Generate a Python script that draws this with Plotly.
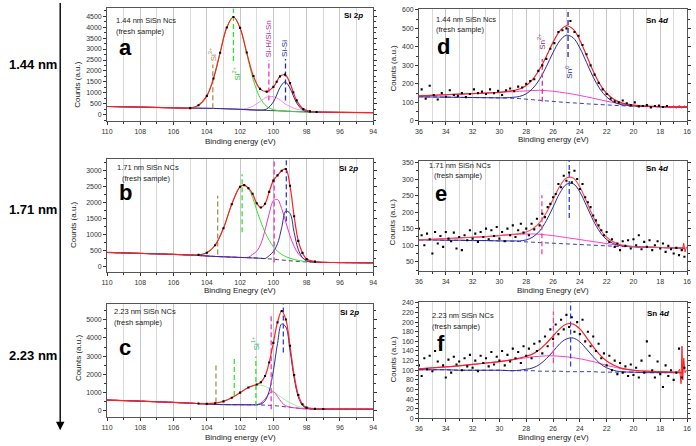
import plotly.graph_objects as go

FONT = "Liberation Sans, Arial, sans-serif"
W, H = 696, 446

# ---------------- Panel a : Si 2p, 1.44 nm ----------------
x_a = [110, 108, 106, 105, 104.5, 104, 103.6, 103.2, 102.8, 102.4, 102.0, 101.6, 101.2, 100.8, 100.4, 100.0, 99.8, 99.6, 99.3, 99.0, 98.8, 98.6, 98.2, 97.8, 97.4, 97, 96, 94]
bg_a = [380, 350, 320, 305, 300, 295, 290, 285, 275, 262, 248, 235, 222, 210, 200, 190, 184, 178, 168, 158, 150, 145, 135, 128, 122, 118, 110, 100]
green_a = [380, 350, 320, 305, 434, 862, 1655, 2834, 3979, 4462, 3952, 2784, 1587, 777, 385, 236, 205, 186, 170, 159, 150, 145, 135, 128, 122, 118, 110, 100]
pink_a = [380, 350, 320, 305, 300, 295, 290, 285, 275, 262, 259, 290, 402, 610, 805, 830, 770, 680, 500, 380, 310, 260, 195, 152, 130, 120, 110, 100]
blue_a = [380, 350, 320, 305, 300, 295, 290, 285, 275, 262, 248, 235, 222, 215, 267, 586, 902, 1242, 1498, 1222, 868, 541, 202, 133, 122, 118, 110, 100]
red_a = [380, 350, 320, 305, 434, 862, 1655, 2834, 3979, 4462, 3963, 2839, 1767, 1182, 1057, 1272, 1509, 1752, 1832, 1445, 1028, 656, 262, 157, 130, 120, 110, 100]
vx_a = [103.64, 102.4, 100.27, 99.27]
vy0_a = [300, 2450, 650, 650]
vy1_a = [2300, 4850, 2500, 2550]

# ---------------- Panel b : Si 2p, 1.71 nm ----------------
x_b = [110, 108, 106, 105, 104.5, 104, 103.5, 103, 102.5, 102, 101.75, 101.5, 101.25, 101, 100.75, 100.5, 100.25, 100, 99.75, 99.5, 99.25, 99, 98.75, 98.5, 98.25, 98, 97.5, 97, 96, 94]
bg_b = [430, 400, 370, 350, 335, 320, 305, 295, 285, 275, 270, 265, 260, 255, 248, 240, 230, 220, 208, 195, 183, 170, 160, 150, 142, 135, 125, 120, 115, 105]
green_b = [430, 400, 370, 350, 355, 420, 655, 1185, 1935, 2480, 2530, 2420, 2150, 1750, 1380, 1060, 810, 610, 470, 370, 300, 250, 210, 180, 160, 145, 130, 122, 115, 105]
pink_b = [430, 400, 370, 350, 335, 320, 305, 295, 285, 275, 272, 280, 370, 470, 700, 1130, 1640, 2040, 2080, 1800, 1380, 950, 620, 390, 270, 185, 135, 120, 115, 105]
blue_b = [430, 400, 370, 350, 335, 320, 305, 295, 285, 275, 270, 265, 260, 255, 248, 240, 330, 460, 700, 1200, 1720, 1650, 1050, 520, 270, 165, 130, 120, 115, 105]
red_b = [430, 400, 370, 350, 355, 420, 655, 1185, 1935, 2480, 2532, 2435, 2260, 1965, 1832, 1950, 2320, 2670, 2834, 2980, 3034, 2510, 1560, 790, 416, 225, 145, 122, 115, 105]
vx_b = [103.35, 101.88, 99.95, 99.22]
vy0_b = [370, 1060, 120, 1400]
vy1_b = [2200, 2870, 3340, 3350]

# ---------------- Panel c : Si 2p, 2.23 nm ----------------
x_c = [110, 108, 106, 105, 104.5, 104, 103.5, 103, 102.5, 102, 101.5, 101, 100.75, 100.5, 100.25, 100, 99.75, 99.5, 99.25, 99, 98.75, 98.5, 98.25, 98, 97.5, 97, 96, 94]
bg_c = [590, 530, 460, 420, 395, 370, 350, 340, 335, 333, 330, 325, 320, 312, 300, 285, 265, 240, 215, 190, 165, 140, 120, 105, 98, 95, 93, 90]
green_c = [590, 530, 460, 420, 400, 391, 417, 518, 717, 1000, 1278, 1420, 1410, 1342, 1224, 1072, 902, 729, 572, 438, 328, 242, 180, 139, 107, 95, 93, 90]
pink_c = [590, 530, 460, 420, 395, 370, 350, 340, 335, 333, 330, 344, 423, 644, 945, 1037, 792, 461, 271, 198, 165, 140, 120, 105, 98, 95, 93, 90]
blue_c = [590, 530, 460, 420, 395, 370, 350, 340, 335, 333, 330, 334, 371, 545, 1080, 2192, 3694, 4769, 4604, 3317, 1799, 766, 296, 142, 99, 95, 93, 90]
red_c = [590, 530, 460, 420, 400, 391, 417, 518, 717, 1000, 1278, 1448, 1564, 1907, 2649, 3731, 4858, 5479, 5017, 3573, 1962, 868, 356, 176, 108, 95, 93, 90]
vx_c = [103.45, 102.35, 101.05, 100.13, 99.4]
vy0_c = [450, 810, 270, 90, 3200]
vy1_c = [2580, 2980, 2980, 5235, 5860]

# ---------------- Panel d : Sn 4d, 1.44 nm ----------------
x_d = [36, 35, 34, 33, 32, 31, 30, 29, 28.5, 28, 27.5, 27, 26.5, 26, 25.5, 25, 24.5, 24, 23.5, 23, 22.5, 22, 21.5, 21, 20, 19, 18, 17, 16]
bg_d = [130, 129, 128, 127, 126, 125, 124, 122, 120, 117, 114, 111, 108, 105, 102, 99, 97, 95, 92, 90, 88, 86, 84, 82, 79, 77, 76, 75, 74]
blue_d = [130, 129, 128, 127, 126, 125, 124, 127, 132, 146, 176, 225, 293, 369, 432, 463, 449, 394, 315, 236, 172, 129, 103, 89, 80, 77, 76, 75, 74]
pink_d = [135, 138, 141, 144, 147, 150, 154, 158, 160, 162, 164, 165, 163, 160, 155, 150, 144, 137, 130, 122, 114, 106, 99, 93, 84, 79, 76, 75, 74]
red_d = [135, 138, 141, 144, 147, 150, 154, 163, 172, 191, 226, 279, 348, 424, 485, 514, 496, 436, 353, 268, 198, 149, 118, 100, 85, 79, 76, 75, 74]
dots_d_x = [35.8, 35.5, 35.2, 34.9, 34.6, 34.3, 34.0, 33.7, 33.4, 33.1, 32.8, 32.5, 32.2, 31.9, 31.6, 31.3, 31.0, 30.7, 30.4, 30.1, 29.8, 29.5, 29.2, 28.9, 28.6, 28.3, 28.0, 27.7, 27.4, 27.1, 26.8, 26.5, 26.2, 25.9, 25.6, 25.3, 25.0, 24.7, 24.4, 24.1, 23.8, 23.5, 23.2, 22.9, 22.6, 22.3, 22.0, 21.7, 21.4, 21.1, 20.8, 20.5, 20.2, 19.9, 19.6, 19.3, 19.0, 18.7, 18.4, 18.1, 17.8, 17.5]
dots_d_y = [170, 120, 190, 140, 115, 150, 130, 165, 140, 135, 150, 128, 145, 170, 150, 158, 145, 170, 150, 162, 140, 165, 175, 160, 185, 180, 200, 215, 225, 270, 300, 335, 390, 420, 480, 490, 500, 540, 480, 460, 410, 360, 300, 250, 205, 170, 145, 120, 105, 100, 110, 95, 85, 100, 78, 80, 85, 73, 80, 82, 75, 80]
tail_d_x = [17.4, 17.2, 17.0, 16.8, 16.6, 16.4, 16.2, 16.0]
tail_d_y = [76, 70, 81, 68, 83, 69, 80, 73]
vx_d = [26.8, 24.88]
vy0_d = [103, 345]
vy1_d = [334, 600]

# ---------------- Panel e : Sn 4d, 1.71 nm ----------------
x_e = [36, 35, 34, 33, 32, 31, 30, 29, 28.5, 28, 27.5, 27, 26.5, 26, 25.5, 25, 24.5, 24, 23.5, 23, 22.5, 22, 21.5, 21, 20, 19, 18, 17, 16.2]
bg_e = [116, 116, 115, 115, 114, 114, 113, 112, 111, 110, 109, 108, 107, 106, 105, 104, 103, 102, 101, 100, 99, 98, 97, 96, 95, 94, 93, 92, 91]
blue_e = [116, 116, 115, 115, 114, 114, 113, 113, 113, 116, 125, 143, 174, 215, 257, 284, 286, 261, 219, 175, 140, 117, 105, 99, 95, 94, 93, 92, 91]
pink_e = [116, 118, 120, 122, 124, 126, 129, 132, 133, 134, 134, 133, 131, 129, 126, 123, 120, 117, 114, 111, 108, 105, 102, 99, 96, 94, 93, 92, 91]
red_e = [116, 118, 120, 122, 124, 126, 129, 133, 135, 140, 150, 168, 198, 238, 278, 303, 303, 276, 232, 186, 149, 124, 110, 102, 96, 94, 93, 92, 91]
sn_dot_x = [36.0, 35.8, 35.6, 35.4, 35.2, 35.0, 34.8, 34.6, 34.4, 34.2,
            34.0, 33.8, 33.6, 33.4, 33.2, 33.0, 32.8, 32.6, 32.4, 32.2,
            32.0, 31.8, 31.6, 31.4, 31.2, 31.0, 30.8, 30.6, 30.4, 30.2,
            30.0, 29.8, 29.6, 29.4, 29.2, 29.0, 28.8, 28.6, 28.4, 28.2,
            28.0, 27.8, 27.6, 27.4, 27.2, 27.0, 26.8, 26.6, 26.4, 26.2,
            26.0, 25.8, 25.6, 25.4, 25.2, 25.0, 24.8, 24.6, 24.4, 24.2,
            24.0, 23.8, 23.6, 23.4, 23.2, 23.0, 22.8, 22.6, 22.4, 22.2,
            22.0, 21.8, 21.6, 21.4, 21.2, 21.0, 20.8, 20.6, 20.4, 20.2,
            20.0, 19.8, 19.6, 19.4, 19.2, 19.0, 18.8, 18.6, 18.4, 18.2,
            18.0, 17.8, 17.6, 17.4, 17.2, 17.0, 16.8, 16.6, 16.4, 16.2]
dots_e_y = [150, 130, 100, 135, 118, 75, 140, 105, 128, 95,
            140, 120, 112, 138, 90, 125, 85, 130, 115, 145,
            120, 135, 110, 140, 125, 150, 118, 145, 128, 155,
            120, 140, 112, 150, 130, 160, 125, 145, 165, 138,
            150, 130, 165, 148, 180, 160, 195, 185, 215, 225,
            245, 255, 285, 275, 310, 295, 320, 290, 325, 300,
            270, 285, 245, 230, 215, 190, 175, 160, 145, 130,
            140, 110, 118, 95, 105, 85, 112, 98, 115, 90,
            118, 100, 130, 88, 110, 95, 115, 85, 100, 112,
            90, 105, 80, 98, 88, 75, 92, 70, 85, 65]
tail_e_x = [16.5, 16.35, 16.25, 16.15, 16.05]
tail_e_y = [91, 84, 106, 80, 95]
vx_e = [26.83, 24.79]
vy0_e = [73, 182]
vy1_e = [251, 355]

# ---------------- Panel f : Sn 4d, 2.23 nm ----------------
x_f = [36, 35, 34, 33, 32, 31, 30, 29, 28.5, 28, 27.5, 27, 26.5, 26, 25.5, 25, 24.5, 24, 23.5, 23, 22.5, 22, 21.5, 21, 20, 19, 18, 17, 16.3]
bg_f = [101, 101, 101, 100, 100, 100, 100, 99, 99, 99, 99, 98, 98, 98, 98, 97, 97, 97, 97, 97, 96, 96, 96, 96, 96, 95, 95, 95, 95]
blue_f = [101, 101, 101, 100, 100, 100, 100, 99, 100, 102, 105, 112, 124, 139, 155, 165, 167, 159, 144, 128, 114, 105, 100, 97, 96, 95, 95, 95, 95]
pink_f = [103, 105, 107, 109, 112, 115, 118, 122, 124, 126, 128, 129, 130, 130, 129, 128, 126, 124, 121, 118, 114, 110, 107, 104, 100, 98, 97, 96, 95]
red_f = [103, 105, 107, 109, 112, 115, 118, 122, 125, 129, 134, 143, 156, 171, 186, 196, 196, 186, 168, 149, 132, 119, 111, 105, 100, 98, 97, 96, 95]
dots_f_y = [110, 88, 125, 102, 130, 98, 140, 118, 150, 110,
            85, 122, 95, 128, 112, 118, 100, 125, 108, 132,
            105, 120, 98, 130, 115, 125, 108, 138, 112, 128,
            120, 140, 110, 132, 118, 145, 125, 138, 115, 150,
            130, 145, 125, 155, 140, 160, 135, 170, 150, 185,
            165, 195, 175, 205, 185, 215, 190, 210, 180, 200,
            175, 205, 160, 180, 150, 170, 140, 155, 125, 135,
            110, 130, 100, 120, 92, 115, 95, 108, 88, 112,
            90, 105, 85, 120, 95, 160, 130, 100, 85, 118,
            92, 65, 110, 88, 100, 80, 95, 145, 85, 105]
tail_f_x = [16.7, 16.55, 16.45, 16.38, 16.32, 16.25, 16.15, 16.05]
tail_f_y = [96, 102, 72, 150, 80, 125, 95, 100]
vx_f = [25.97, 24.69]
vy0_f = [115, 108]
vy1_f = [222, 242]

# ---------------- helpers ----------------
def px(x):
    return x / W


def py(y):
    return 1 - y / H


RED = "#ff2020"
BLUE = "#2c2ca0"
NAVY = "#2a2a88"
OLIVE = "#a39058"
GREEN = "#2ee62e"
MAG = "#f032c8"

fig = go.Figure()


def line(n, xs, ys, color, width=1.0, dash="solid", shape="spline"):
    fig.add_trace(go.Scatter(x=xs, y=ys, mode="lines", xaxis="x" + n, yaxis="y" + n,
                             line=dict(color=color, width=width, dash=dash, shape=shape),
                             hoverinfo="skip", showlegend=False))


def dots(n, xs, ys, size=2.1):
    fig.add_trace(go.Scatter(x=xs, y=ys, mode="markers", xaxis="x" + n, yaxis="y" + n,
                             marker=dict(color="black", size=size, symbol="square"),
                             hoverinfo="skip", showlegend=False))


def vlines(n, xs, y0s, y1s, colors):
    for xv, a, b, c in zip(xs, y0s, y1s, colors):
        line(n, [xv, xv], [a, b], c, width=1.3, dash="5px,3px", shape="linear")


# ---- panel a ----
line("", x_a, bg_a, "#333333", 0.9)
line("", x_a, green_a, GREEN, 1.0)
line("", x_a, pink_a, "#f592e2", 1.0)
line("", x_a, blue_a, BLUE, 1.0)
vlines("", vx_a, vy0_a, vy1_a, [OLIVE, GREEN, MAG, NAVY])
line("", x_a, red_a, RED, 1.2)
dots("", x_a[3:25], red_a[3:25])

# ---- panel b ----
line("3", x_b, bg_b, "#333333", 0.9, dash="4px,3px")
line("3", x_b, green_b, GREEN, 1.0)
line("3", x_b, pink_b, MAG, 1.0)
line("3", x_b, blue_b, BLUE, 1.0)
vlines("3", vx_b, vy0_b, vy1_b, [OLIVE, GREEN, MAG, "#3344cc"])
line("3", x_b, red_b, RED, 1.2)
dots("3", x_b[4:27], red_b[4:27])

# ---- panel c ----
line("5", x_c, bg_c, "#3a3ab0", 1.0, dash="4px,3px")
line("5", x_c, green_c, "#9cf09c", 1.0)
line("5", x_c, pink_c, MAG, 1.0)
line("5", x_c, blue_c, BLUE, 1.0)
vlines("5", vx_c, vy0_c, vy1_c, [OLIVE, GREEN, GREEN, MAG, "#3344cc"])
line("5", x_c, red_c, RED, 1.2)
dots("5", x_c[4:26], red_c[4:26])

# ---- panel d ----
line("2", x_d, bg_d, "#3a3ab0", 1.0, dash="4px,3px")
line("2", x_d, pink_d, "#ff40c8", 1.0)
line("2", x_d, blue_d, BLUE, 1.0)
vlines("2", vx_d, vy0_d, vy1_d, ["#e0338f", NAVY])
line("2", x_d, red_d, RED, 1.2)
line("2", tail_d_x, tail_d_y, RED, 1.0, shape="linear")
dots("2", dots_d_x, dots_d_y)

# ---- panel e ----
line("4", x_e, bg_e, "#3a3ab0", 1.0, dash="4px,3px")
line("4", x_e, pink_e, "#ff40c8", 1.0)
line("4", x_e, blue_e, BLUE, 1.0)
vlines("4", vx_e, vy0_e, vy1_e, ["#f040a8", "#3344cc"])
line("4", x_e, red_e, "#ff5050", 1.2)
line("4", tail_e_x, tail_e_y, RED, 1.0, shape="linear")
dots("4", sn_dot_x, dots_e_y)

# ---- panel f ----
line("6", x_f, bg_f, "#3a3ab0", 1.0, dash="4px,3px")
line("6", x_f, pink_f, "#ff40c8", 1.0)
line("6", x_f, blue_f, BLUE, 1.0)
vlines("6", vx_f, vy0_f, vy1_f, ["#f040a8", "#3344cc"])
line("6", x_f, red_f, RED, 1.2)
line("6", tail_f_x, tail_f_y, RED, 1.0, shape="linear")
dots("6", sn_dot_x, dots_f_y)

# ---------------- axes ----------------
TICKFONT = dict(family=FONT, size=7, color="#333333")


def xcfg(dom, rng, anchor):
    return dict(domain=[px(dom[0]), px(dom[1])], range=rng, anchor=anchor, autorange=False,
                dtick=2, tick0=0, ticks="outside", ticklen=3, tickwidth=0.8, tickcolor="#333",
                showline=True, linecolor="#555", linewidth=0.8, mirror=True,
                showgrid=True, gridcolor="#c6c6c6", gridwidth=0.8, zeroline=False,
                minor=dict(dtick=1, tick0=0, ticks="outside", ticklen=2, tickcolor="#333",
                           showgrid=True, gridcolor="#dadada", gridwidth=0.8),
                tickfont=TICKFONT, fixedrange=True)


def ycfg(dom, rng, anchor, dt, mdt):
    return dict(domain=[py(dom[1]), py(dom[0])], range=rng, anchor=anchor, autorange=False,
                dtick=dt, tick0=0, tickformat="d", ticks="outside", ticklen=3, tickwidth=0.8,
                tickcolor="#333", showline=True, linecolor="#555", linewidth=0.8, mirror="ticks",
                showgrid=False, zeroline=False,
                minor=dict(dtick=mdt, tick0=0, ticks="outside", ticklen=2, tickcolor="#333", showgrid=False),
                tickfont=TICKFONT, fixedrange=True)


LX = (102.5, 372.5)
RX = (419, 691)
layout_axes = dict(
    xaxis=xcfg(LX, [110, 94], "y"), yaxis=ycfg((5, 120), [-300, 4875], "x", 500, 250),
    xaxis3=xcfg(LX, [110, 94], "y3"), yaxis3=ycfg((158, 273), [-190, 3350], "x3", 500, 250),
    xaxis5=xcfg(LX, [110, 94], "y5"), yaxis5=ycfg((305, 420), [-360, 5870], "x5", 1000, 500),
    xaxis2=xcfg(RX, [36, 16], "y2"), yaxis2=ycfg((6, 120), [-3, 605], "x2", 100, 50),
    xaxis4=xcfg(RX, [36, 16], "y4"), yaxis4=ycfg((160, 272), [21, 355], "x4", 50, 25),
    xaxis6=xcfg(RX, [36, 16], "y6"), yaxis6=ycfg((303, 421), [0, 242], "x6", 20, 10),
)

# ---------------- annotations ----------------
ann = []


def note(text, x, y, size=7.5, color="#222", xanchor="left", yanchor="middle", angle=0,
         xref="paper", yref="paper"):
    if xref == "paper":
        x = px(x)
    if yref == "paper":
        y = py(y)
    ann.append(dict(text=text, x=x, y=y, xref=xref, yref=yref, xanchor=xanchor, yanchor=yanchor,
                    textangle=angle, showarrow=False, borderpad=0,
                    font=dict(family=FONT, size=size, color=color)))


# size labels on the left + arrow
for t, yy in [("1.44 nm", 62), ("1.71 nm", 209), ("2.23 nm", 357)]:
    note("<b>" + t + "</b>", 2, yy, size=13, color="black")
fig.add_shape(type="line", xref="paper", yref="paper", x0=px(55), x1=px(55), y0=py(0), y1=py(426),
              line=dict(color="black", width=1.4))
ann.append(dict(x=px(55), y=py(433), xref="paper", yref="paper", ax=0, ay=-10, axref="pixel",
                ayref="pixel", text=" ", showarrow=True, arrowhead=2, arrowsize=1.2, arrowwidth=1.4,
                arrowcolor="black", standoff=0, font=dict(size=8)))

# sample descriptions
note("1.44 nm SiSn Ncs", 111, 18)
note("(fresh sample)", 111, 28.5)
note("1.71 nm SiSn NCs", 112, 167)
note("(fresh sample)", 117, 177.5)
note("2.23 nm SiSn NCs", 109, 313)
note("(fresh sample)", 109, 323.5)
note("1.44 nm SiSn Ncs", 435, 17)
note("(fresh sample)", 435, 27)
note("1.71 nm SiSn NCs", 428, 165)
note("(fresh sample)", 433, 175)
note("2.23 nm SiSn NCs", 431, 317)
note("(fresh sample)", 431, 327.5)

# core level tags
for xx, yy in [(342, 13), (337, 168), (338, 314)]:
    note("<b>Si 2<i>p</i></b>", xx, yy, size=8, color="black")
for xx, yy in [(648, 18), (648, 168), (649, 315)]:
    note("<b>Sn 4<i>d</i></b>", xx, yy, size=8, color="black")

# panel letters
for t, xx, yy in [("a", 114, 45), ("b", 114, 192), ("c", 114, 349), ("d", 436, 44), ("e", 434, 193), ("f", 436, 345)]:
    note("<b>" + t + "</b>", xx, yy, size=22, color="black")

# axis titles
for t, xx, yy in [("Binding energy (eV)", 238, 140), ("Binding Enegry (eV)", 237, 291),
                  ("Binding energy (eV)", 238, 440), ("Binding energy (eV)", 555, 138),
                  ("Binding Enegry (eV)", 555, 291), ("Binding energy (eV)", 555, 440.5)]:
    note(t, xx, yy, size=8, color="#222", xanchor="center")
for xx, yy in [(73, 82), (69, 225), (73, 359), (393, 66), (392, 222), (393, 361)]:
    note("Counts (a.u.)", xx, yy, size=8, color="#222", xanchor="center", angle=-90)

# peak labels
note("Si<sup>3+</sup>", 103.7, 2750, size=8, color="#a08c4c", xanchor="center", angle=-90, xref="x", yref="y")
note("Si<sup>2+</sup>", 102.22, 1900, size=8, color="#22cc33", xanchor="center", angle=-90, xref="x", yref="y")
note("Si-H/Si-Sn", 100.3, 3450, size=8, color="#b0309a", xanchor="center", angle=-90, xref="x", yref="y")
note("Si-Si", 99.3, 3050, size=8, color=NAVY, xanchor="center", angle=-90, xref="x", yref="y")
note("Si<sup>1+</sup>", 101.05, 3700, size=8, color="#2db36b", xanchor="center", angle=-90, xref="x5", yref="y5")
note("Sn<sup>2+</sup>", 26.85, 425, size=8, color="#8b2a7a", xanchor="center", angle=-90, xref="x2", yref="y2")
note("Sn<sup>0</sup>", 24.82, 265, size=8, color=NAVY, xanchor="center", angle=-90, xref="x2", yref="y2")

fig.update_layout(width=W, height=H, margin=dict(l=0, r=0, t=0, b=0),
                  paper_bgcolor="white", plot_bgcolor="white", showlegend=False,
                  annotations=ann, **layout_axes)

fig.write_html("out.html")
